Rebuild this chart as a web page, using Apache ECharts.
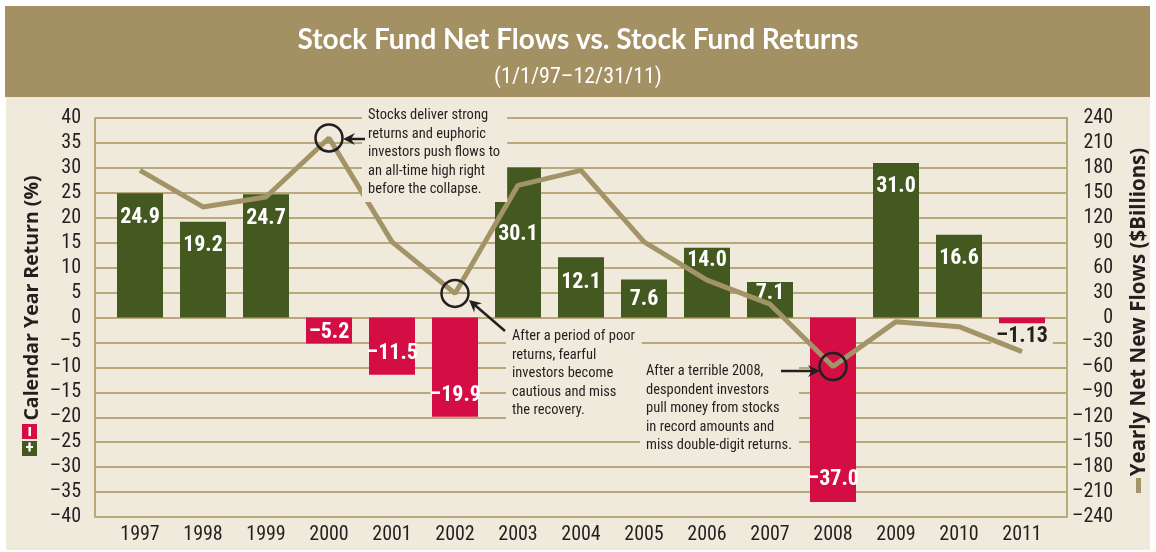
<!DOCTYPE html>
<html>
<head>
<meta charset="utf-8">
<script src="https://cdn.jsdelivr.net/npm/echarts@6/dist/echarts.min.js"></script>
<style>
  html, body { margin: 0; padding: 0; background: #fff; }
  #chart { width: 1156px; height: 552px; }
</style>
</head>
<body>
<div id="chart"></div>
<script>
// data
var years = ['1997', '1998', '1999', '2000', '2001', '2002', '2003', '2004',
  '2005', '2006', '2007', '2008', '2009', '2010', '2011'];
var returns = [24.9, 19.2, 24.7, -5.2, -11.5, -19.9, 30.1, 12.1, 7.6, 14.0, 7.1, -37.0, 31.0, 16.6, -1.13];
var flows = [177, 133, 145, 216, 91, 29, 159, 177, 91, 45, 16, -59, -5, -11, -41];
var circled = [3, 5, 11]; // 2000, 2002, 2008

var notes = [
  'Stocks deliver strong\nreturns and euphoric\ninvestors push flows to\nan all-time high right\nbefore the collapse.',
  'After a period of poor\nreturns, fearful\ninvestors become\ncautious and miss\nthe recovery.',
  'After a terrible 2008,\ndespondent investors\npull money from stocks\nin record amounts and\nmiss double-digit returns.'
];

// styling
var green = '#44591f', red = '#d40d45', tan = '#a39467', gridTan = '#b8a87b';
var ink = '#231f20', cream = '#efeadb', band = '#a39063';
var font = "'Liberation Sans Narrow', 'Roboto Condensed', Roboto, sans-serif";
var wide = "Lato, 'Open Sans', sans-serif";
var nameFont = "'Open Sans', Lato, sans-serif";
// how far each bar label sits in from the bar end (px)
var labelInset = [13, 13, 13, 0, 10, 10, 56, 14, 9, 2, 0, 12, 13, 13, 1];

function dash(v) { return String(v).replace('-', '\u2013'); }
function fmtReturn(v) {
  var tenth = Math.abs(v * 10 - Math.round(v * 10)) < 1e-6;
  return dash(v.toFixed(tenth ? 1 : 2));
}

var barData = returns.map(function (v, i) {
  var neg = v < 0;
  var lbl;
  if (Math.abs(v) < 2) {
    lbl = { position: 'bottom', distance: labelInset[i], color: ink, backgroundColor: cream, padding: [1, 5] };
  } else {
    lbl = { position: neg ? 'insideBottom' : 'insideTop', distance: labelInset[i] };
  }
  return { value: v, itemStyle: { color: neg ? red : green }, label: lbl };
});

function arrow(x1, y1, x2, y2) {
  var a = Math.atan2(y2 - y1, x2 - x1), L = 12, W = 6, N = 8;
  var cx = Math.cos(a), sy = Math.sin(a);
  var bx = x2 - cx * L, by = y2 - sy * L;
  var nx = x2 - cx * N, ny = y2 - sy * N;
  return [
    { type: 'line', shape: { x1: x1, y1: y1, x2: nx, y2: ny }, style: { stroke: ink, lineWidth: 2.5 }, z: 100 },
    { type: 'polygon', shape: { points: [[x2, y2], [bx - sy * W, by + cx * W], [nx, ny], [bx + sy * W, by - cx * W]] },
      style: { fill: ink }, z: 100 }
  ];
}

function note(text, x, y) {
  return {
    type: 'text', x: x, y: y, z: 100,
    style: {
      text: text, fill: ink, font: '14.5px ' + font, lineHeight: 18.6,
      backgroundColor: cream, padding: [3, 7, 3, 6]
    }
  };
}

var graphics = [
  { type: 'rect', shape: { x: 5, y: 6, width: 1145, height: 91 }, style: { fill: band }, z: -100 },
  { type: 'rect', shape: { x: 6, y: 97, width: 1144, height: 453 }, style: { fill: cream }, z: -100 },
  // axis names
  { type: 'text', x: 32, y: 298, rotation: Math.PI / 2, z: 50,
    style: { text: 'Calendar Year Return (%)', fill: ink, font: 'bold 19.5px ' + nameFont, align: 'center', verticalAlign: 'middle' } },
  { type: 'text', x: 1139, y: 312, rotation: Math.PI / 2, z: 50,
    style: { text: 'Yearly Net New Flows ($Billions)', fill: ink, font: 'bold 20.5px ' + nameFont, align: 'center', verticalAlign: 'middle' } },
  // legend keys
  { type: 'rect', shape: { x: 22, y: 424, width: 15, height: 15 }, style: { fill: red }, z: 50 },
  { type: 'rect', shape: { x: 28.5, y: 427, width: 2.5, height: 9 }, style: { fill: '#fff' }, z: 51 },
  { type: 'rect', shape: { x: 22, y: 441, width: 15, height: 15 }, style: { fill: green }, z: 50 },
  { type: 'text', x: 29.5, y: 448.5, z: 51,
    style: { text: '+', fill: '#fff', font: 'bold 17px ' + font, align: 'center', verticalAlign: 'middle' } },
  { type: 'rect', shape: { x: 1136, y: 478, width: 5, height: 15 }, style: { fill: tan }, z: 50 },
  note(notes[0], 362, 103),
  note(notes[1], 506, 324),
  note(notes[2], 640, 359)
].concat(arrow(365, 139, 343, 139), arrow(505, 331, 469, 300), arrow(781, 371, 820, 371));

var option = {
  animation: false,
  textStyle: { fontFamily: font },
  title: [
    { text: 'Stock Fund Net Flows vs. Stock Fund Returns', left: 'center', top: 21,
      textStyle: { color: '#fff', fontSize: 28, fontWeight: 'bold', fontFamily: wide } },
    { text: '(1/1/97\u201312/31/11)', left: 'center', top: 61,
      textStyle: { color: '#fff', fontSize: 22, fontWeight: 'normal', fontFamily: font } }
  ],
  graphic: graphics,
  grid: [
    { left: 95, right: 89, top: 118, bottom: 35 },
    { left: 108.5, right: 102.5, top: 118, bottom: 35 }
  ],
  xAxis: [
    { gridIndex: 0, type: 'category', data: years, show: false },
    { gridIndex: 1, type: 'category', data: years,
      axisLine: { show: false }, axisTick: { show: false },
      axisLabel: { color: ink, fontSize: 20, margin: 8, fontFamily: font } }
  ],
  yAxis: [
    { gridIndex: 0, type: 'value', min: -40, max: 40, interval: 5,
      axisLine: { show: true, lineStyle: { color: gridTan, width: 2 } }, axisTick: { show: false },
      axisLabel: { color: ink, fontSize: 20, margin: 14, fontFamily: font, formatter: dash },
      splitLine: { lineStyle: { color: gridTan, width: 2 } } },
    { gridIndex: 0, type: 'value', position: 'right', min: -240, max: 240, interval: 30,
      axisLine: { show: true, lineStyle: { color: gridTan, width: 2 } }, axisTick: { show: false },
      axisLabel: { color: ink, fontSize: 20, margin: 46, align: 'right', fontFamily: font, formatter: dash },
      splitLine: { show: false } },
    { gridIndex: 1, type: 'value', min: -40, max: 40, show: false },
    { gridIndex: 1, type: 'value', min: -240, max: 240, show: false }
  ],
  series: [
    {
      type: 'bar', xAxisIndex: 1, yAxisIndex: 2, barWidth: 46, data: barData,
      label: { show: true, color: '#fff', fontSize: 22, fontWeight: 'bold', fontFamily: font,
        formatter: function (p) { return fmtReturn(p.value); } },
      z: 2
    },
    {
      type: 'line', xAxisIndex: 1, yAxisIndex: 3, data: flows, symbol: 'none', z: 3,
      lineStyle: { color: tan, width: 5 }, itemStyle: { color: tan },
      markPoint: {
        symbol: 'circle', symbolSize: 27, silent: true,
        itemStyle: { color: 'rgba(0,0,0,0)', borderColor: ink, borderWidth: 2.5 },
        label: { show: false },
        data: circled.map(function (i) { return { coord: [years[i], flows[i]] }; })
      }
    }
  ]
};

var chart = echarts.init(document.getElementById('chart'));
chart.setOption(option);
</script>
</body>
</html>
